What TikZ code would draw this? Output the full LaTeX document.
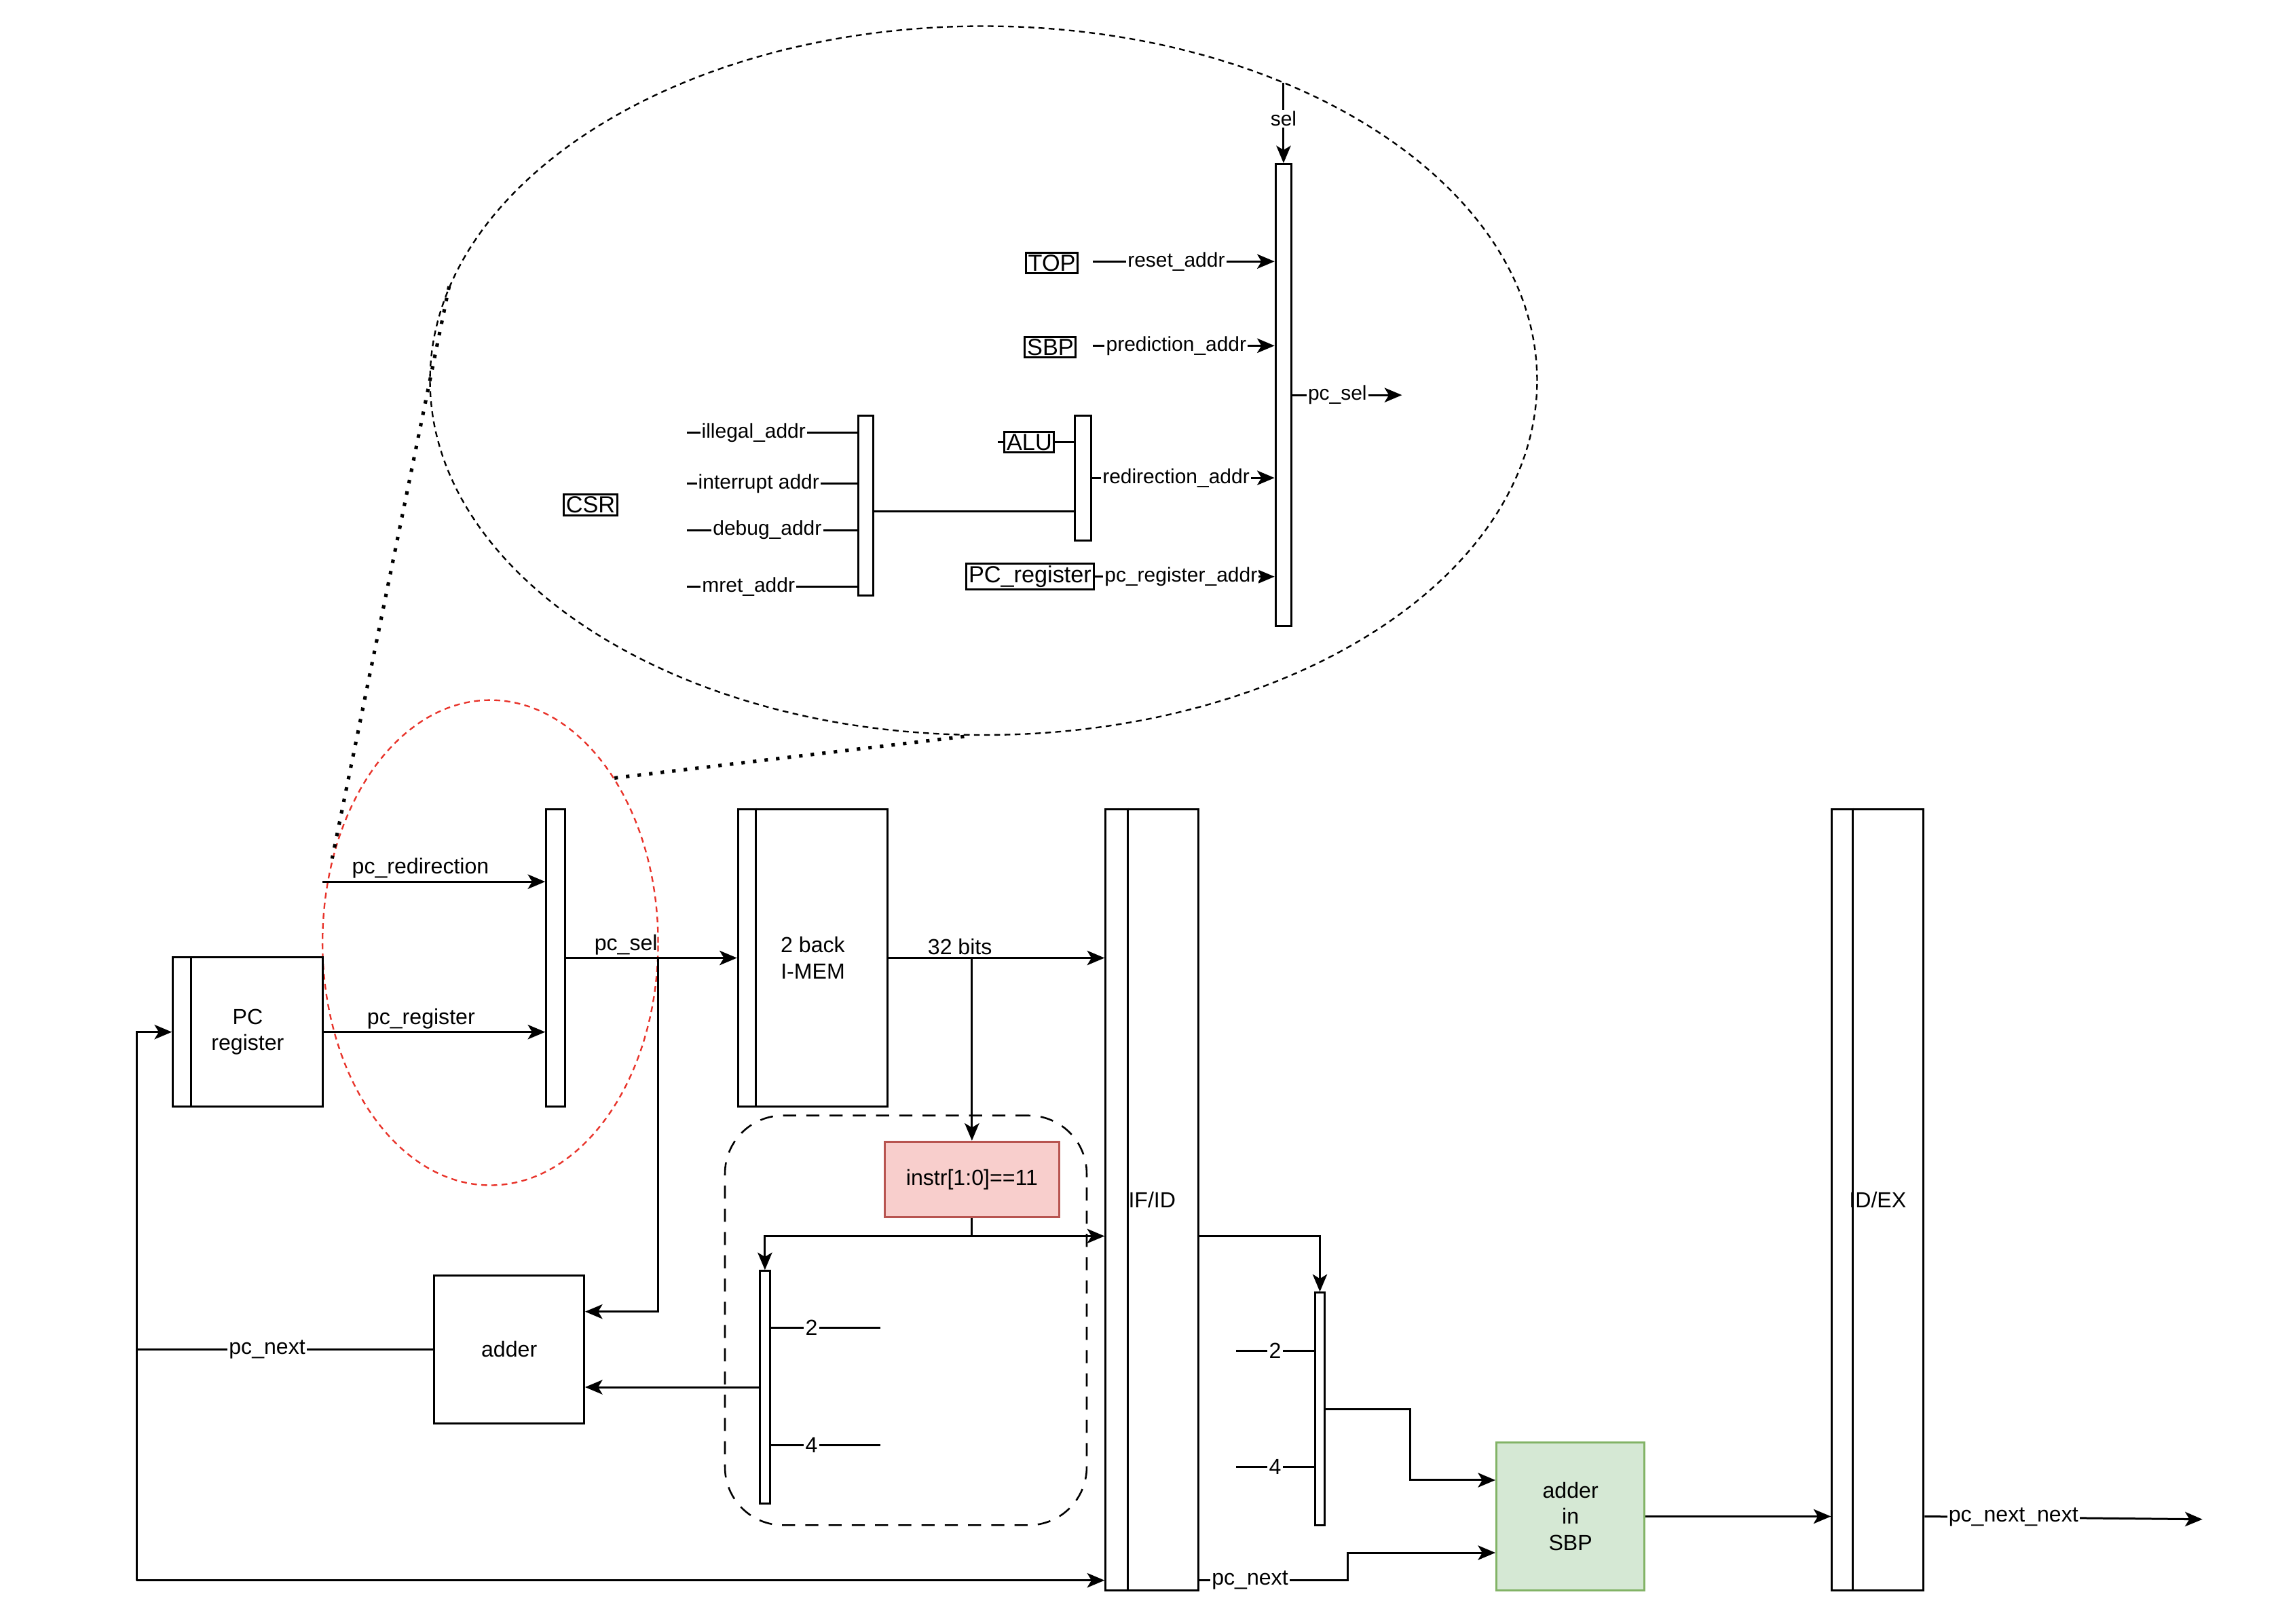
\documentclass[tikz,border=0pt]{standalone}
\usepackage{fontspec}
\setmainfont{Liberation Sans}
\usetikzlibrary{positioning,arrows.meta,shapes.geometric}
\definecolor{cPink}{HTML}{F8CECC}
\definecolor{cPinkLine}{HTML}{B85450}
\definecolor{cGreen}{HTML}{D5E8D4}
\definecolor{cGreenLine}{HTML}{82B366}
\definecolor{cRing}{HTML}{E8332A}

\begin{document}
\begin{tikzpicture}[x=1pt,y=-1pt,line width=1.4pt,
    every node/.style={font=\fontsize{15}{18}\selectfont,inner sep=1.5pt},
    blk/.style={draw,align=center,inner sep=0pt},
    mux/.style={draw,fill=white,inner sep=0pt},
    tag/.style={draw,inner sep=1.5pt,font=\fontsize{16}{18}\selectfont},
    lbl/.style={fill=white,inner sep=1pt},
    slbl/.style={fill=white,inner sep=1pt,font=\fontsize{14}{16}\selectfont},
    arr/.style={-{Stealth[length=12pt,width=10pt,inset=3pt]}},
    dots/.style={line width=2.4pt,dash pattern=on 2.4pt off 5.6pt}]
  \useasboundingbox (0,0) rectangle (1568,1118);

  % zoom rings
  \node[ellipse,draw,line width=1.1pt,dash pattern=on 4pt off 3pt,minimum width=762,minimum height=488,inner sep=0pt] (zoom) at (677,262) {};
  \node[ellipse,draw=cRing,line width=1.1pt,dash pattern=on 4pt off 3pt,minimum width=231,minimum height=334,inner sep=0pt] (focus) at (337.5,649) {};
  \draw[dots] (zoom.170.2) -- (focus.152.3);
  \draw[dots] (focus.53.6) -- (zoom.268.8);

  % fetch stage
  \node[draw,rounded corners=40pt,line width=1.2pt,dash pattern=on 9pt off 7pt,minimum width=249,minimum height=282] (gate) at (623.5,909) {};
  \node[blk,minimum width=103,minimum height=103] (pcreg) at (170.5,710.5) {PC\\register};
  \node[mux,minimum width=13,minimum height=205] (pcmux) at (382.5,659.5) {};
  \node[blk,minimum width=103,minimum height=205] (imem) at (559.5,659.5) {2 back\\I-MEM};
  \node[blk,minimum width=64,minimum height=538] (ifid) at (793,826) {IF/ID};
  \node[blk,minimum width=63,minimum height=538] (idex) at (1292.5,826) {ID/EX};
  \node[blk,minimum width=103,minimum height=102] (adder) at (350.5,929) {adder};
  \node[blk,fill=cPink,draw=cPinkLine,minimum width=120,minimum height=52] (instr) at (669,812) {instr[1:0]==11};
  \node[mux,minimum width=7,minimum height=160] (incmux) at (526.5,955) {};
  \node[mux,minimum width=7,minimum height=160] (sbpmux) at (908.5,970) {};
  \node[blk,fill=cGreen,draw=cGreenLine,minimum width=102,minimum height=102] (sbpadd) at (1081,1044) {adder\\in\\SBP};
  \draw ([xshift=13pt]pcreg.north west) -- ([xshift=13pt]pcreg.south west);
  \draw ([xshift=13pt]imem.north west) -- ([xshift=13pt]imem.south west);
  \draw ([xshift=16pt]ifid.north west) -- ([xshift=16pt]ifid.south west);
  \draw ([xshift=15pt]idex.north west) -- ([xshift=15pt]idex.south west);

  \coordinate (redin) at (222,607);
  \coordinate (selbr) at (453,659.5);
  \coordinate (bitbr) at (669,659.5);
  \coordinate (chk) at (669,851);
  \coordinate (lpbot) at (94,1088);
  \coordinate (incA) at (606,914);
  \coordinate (incB) at (606,995);
  \coordinate (sbpA) at (851,930);
  \coordinate (sbpB) at (851,1010);
  \coordinate (nnext) at (1516,1046);

  \draw[arr] (redin) -- (redin -| pcmux.west) node[pos=0.44,above]{pc\_redirection};
  \draw[arr] (pcreg.east) -- (pcreg.east -| pcmux.west) node[pos=0.44,above]{pc\_register};
  \draw[arr] (pcmux.east |- imem.west) -- (imem.west) node[pos=0.35,above]{pc\_sel};
  \draw[arr] (selbr) |- ([yshift=26pt]adder.east);
  \draw[arr] (imem.east) -- (imem.east -| ifid.west) node[pos=0.33,above]{32 bits};
  \draw[arr] (bitbr) -- (instr.north);
  \draw (instr.south) -- (chk);
  \draw[arr] (chk) -- (chk -| ifid.west);
  \draw[arr] (chk) -| (incmux.north);
  \draw (incA) -- (incA -| incmux.east) node[pos=0.63,lbl]{2};
  \draw (incB) -- (incB -| incmux.east) node[pos=0.63,lbl]{4};
  \draw[arr] (incmux.west) -- (incmux.west -| adder.east);
  \draw (adder.west) -- (adder.west -| lpbot) node[pos=0.56,lbl]{pc\_next};
  \draw[arr] (lpbot) |- (pcreg.west);
  \draw[arr] (lpbot) -- (lpbot -| ifid.west);

  \draw[arr] (ifid.east |- chk) -| (sbpmux.north);
  \draw (sbpA) -- (sbpA -| sbpmux.west) node[midway,lbl]{2};
  \draw (sbpB) -- (sbpB -| sbpmux.west) node[midway,lbl]{4};
  \draw[arr] (sbpmux.east) -- ++(58,0) |- ([yshift=25pt]sbpadd.west);
  \draw[arr] (ifid.east |- lpbot) -- ++(102,0) node[pos=0.34,lbl]{pc\_next} |- ([yshift=-25pt]sbpadd.west);
  \draw[arr] (sbpadd.east) -- (sbpadd.east -| idex.west);
  \draw[arr] (idex.east |- sbpadd.east) -- (nnext) node[pos=0.32,lbl]{pc\_next\_next};

  % inside the zoom ring
  \node[mux,minimum width=11,minimum height=318] (selmux) at (883.5,272) {};
  \node[mux,minimum width=11,minimum height=86] (redmux) at (745.5,329) {};
  \node[mux,minimum width=10,minimum height=124] (csrmux) at (596,348) {};
  \node[tag] (topsrc) at (724,181) {TOP};
  \node[tag] (sbpsrc) at (723,239) {SBP};
  \node[tag] (alu) at (708.5,304.5) {ALU};
  \node[tag] (pcsrc) at (709,397) {PC\_register};
  \node[tag] (csr) at (406.5,347.5) {CSR};

  \coordinate (seltop) at (883.5,57);
  \coordinate (rst) at (752,180);
  \coordinate (pred) at (752,238);
  \coordinate (selout) at (965,272);
  \coordinate (ill) at (473,298);
  \coordinate (intr) at (473,333);
  \coordinate (dbg) at (473,365);
  \coordinate (mret) at (473,404);

  \draw[arr] (seltop) -- (selmux.north) node[pos=0.45,slbl]{sel};
  \draw[arr] (rst) -- (rst -| selmux.west) node[pos=0.46,slbl]{reset\_addr};
  \draw[arr] (pred) -- (pred -| selmux.west) node[pos=0.46,slbl]{prediction\_addr};
  \draw[arr] (selmux.east) -- (selout) node[pos=0.41,slbl]{pc\_sel};
  \draw (alu.west) -- ++(-4,0);
  \draw (alu.east) -- (alu.east -| redmux.west);
  \draw[arr] (redmux.east) -- (redmux.east -| selmux.west) node[pos=0.46,slbl]{redirection\_addr};
  \draw[arr] (pcsrc.east) -- (pcsrc.east -| selmux.west) node[pos=0.48,slbl]{pc\_register\_addr};
  \draw ([yshift=-4pt]csrmux.east) -- ([yshift=-4pt]csrmux.east -| redmux.west);
  \draw (ill) -- (ill -| csrmux.west) node[pos=0.39,slbl]{illegal\_addr};
  \draw (intr) -- (intr -| csrmux.west) node[pos=0.42,slbl]{interrupt addr};
  \draw (dbg) -- (dbg -| csrmux.west) node[pos=0.47,slbl]{debug\_addr};
  \draw (mret) -- (mret -| csrmux.west) node[pos=0.36,slbl]{mret\_addr};
\end{tikzpicture}
\end{document}
